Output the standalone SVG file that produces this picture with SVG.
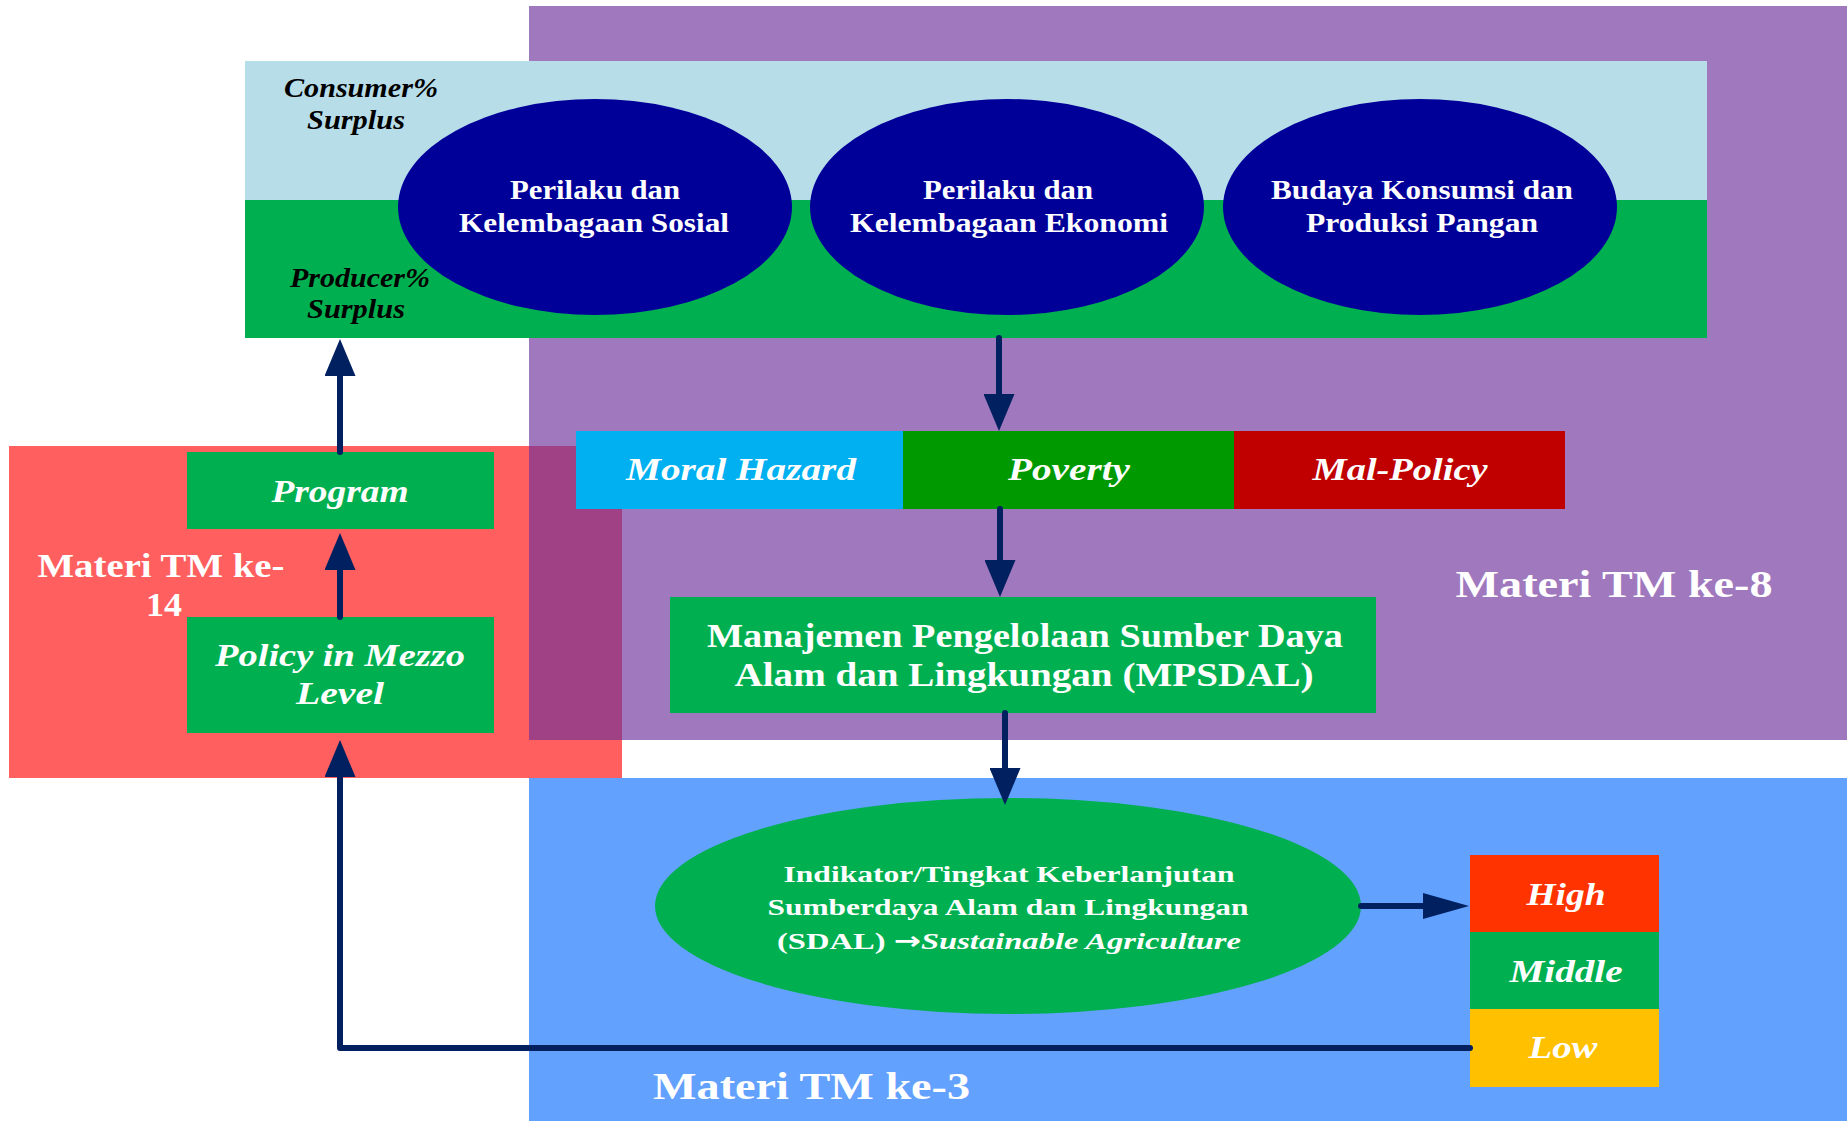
<svg xmlns="http://www.w3.org/2000/svg" width="1847" height="1121" viewBox="0 0 1847 1121">
<defs>
<style>
.t{font-family:"Liberation Serif","Times New Roman",serif;font-weight:bold;fill:#ffffff}
.i{font-style:italic}
.k{fill:#000000}
.ar{font-family:"DejaVu Sans",sans-serif;font-weight:bold;font-style:normal}
.ln{fill:none;stroke:#002060;stroke-width:6;stroke-linecap:round;stroke-linejoin:round}
</style>
<marker id="av" markerUnits="userSpaceOnUse" markerWidth="37" markerHeight="31" viewBox="0 0 37 31" refX="0" refY="15.5" orient="auto">
<path d="M0,0 L37,15.5 L0,31 Z" fill="#002060"/>
</marker>
<marker id="ah" markerUnits="userSpaceOnUse" markerWidth="46" markerHeight="26" viewBox="0 0 46 26" refX="0" refY="13" orient="auto">
<path d="M0,0 L46,13 L0,26 Z" fill="#002060"/>
</marker>
</defs>
<rect x="0" y="0" width="1847" height="1121" fill="#ffffff"/>
<g id="region-tm8">
<rect x="529" y="6" width="1318" height="734" fill="#A078BE"/>
<text class="t" x="1614" y="597" font-size="37" text-anchor="middle" textLength="317" lengthAdjust="spacingAndGlyphs">Materi TM ke-8</text>
</g>
<g id="region-tm3">
<rect x="529" y="778" width="1318" height="343" fill="#63A1FF"/>
<text class="t" x="653" y="1099" font-size="38" textLength="317" lengthAdjust="spacingAndGlyphs">Materi TM ke-3</text>
</g>
<g id="region-tm14">
<rect x="9" y="446" width="613" height="332" fill="#FF5F5F"/>
<rect x="529" y="446" width="93" height="294" fill="#A04085"/>
<text class="t" x="161" y="577" font-size="34" text-anchor="middle" textLength="247" lengthAdjust="spacingAndGlyphs">Materi TM ke-</text>
<text class="t" x="164" y="616" font-size="34" text-anchor="middle" textLength="36" lengthAdjust="spacingAndGlyphs">14</text>
</g>
<g id="surplus-band">
<rect x="245" y="61" width="1462" height="139" fill="#B7DDE8"/>
<rect x="245" y="200" width="1462" height="138" fill="#00B050"/>
<text class="t i k" x="284" y="97" font-size="27" textLength="154" lengthAdjust="spacingAndGlyphs">Consumer%</text>
<text class="t i k" x="307" y="129" font-size="27" textLength="98" lengthAdjust="spacingAndGlyphs">Surplus</text>
<text class="t i k" x="290" y="287" font-size="27" textLength="140" lengthAdjust="spacingAndGlyphs">Producer%</text>
<text class="t i k" x="307" y="318" font-size="27" textLength="98" lengthAdjust="spacingAndGlyphs">Surplus</text>
</g>
<g id="perilaku-sosial">
<ellipse cx="595" cy="207" rx="197" ry="108" fill="#000099"/>
<text class="t" x="595" y="199" font-size="27" text-anchor="middle" textLength="170" lengthAdjust="spacingAndGlyphs">Perilaku dan</text>
<text class="t" x="594" y="232" font-size="27" text-anchor="middle" textLength="270" lengthAdjust="spacingAndGlyphs">Kelembagaan Sosial</text>
</g>
<g id="perilaku-ekonomi">
<ellipse cx="1007" cy="207" rx="197" ry="108" fill="#000099"/>
<text class="t" x="1008" y="199" font-size="27" text-anchor="middle" textLength="170" lengthAdjust="spacingAndGlyphs">Perilaku dan</text>
<text class="t" x="1009" y="232" font-size="27" text-anchor="middle" textLength="318" lengthAdjust="spacingAndGlyphs">Kelembagaan Ekonomi</text>
</g>
<g id="budaya-konsumsi">
<ellipse cx="1420" cy="207" rx="197" ry="108" fill="#000099"/>
<text class="t" x="1422" y="199" font-size="27" text-anchor="middle" textLength="302" lengthAdjust="spacingAndGlyphs">Budaya Konsumsi dan</text>
<text class="t" x="1422" y="232" font-size="27" text-anchor="middle" textLength="232" lengthAdjust="spacingAndGlyphs">Produksi Pangan</text>
</g>
<g id="moral-hazard">
<rect x="576" y="431" width="327" height="78" fill="#00B0F0"/>
<text class="t i" x="741" y="480" font-size="32" text-anchor="middle" textLength="230" lengthAdjust="spacingAndGlyphs">Moral Hazard</text>
</g>
<g id="poverty">
<rect x="903" y="431" width="331" height="78" fill="#009900"/>
<text class="t i" x="1069" y="480" font-size="32" text-anchor="middle" textLength="122" lengthAdjust="spacingAndGlyphs">Poverty</text>
</g>
<g id="mal-policy">
<rect x="1234" y="431" width="331" height="78" fill="#C00000"/>
<text class="t i" x="1400" y="480" font-size="32" text-anchor="middle" textLength="175" lengthAdjust="spacingAndGlyphs">Mal-Policy</text>
</g>
<g id="mpsdal">
<rect x="670" y="597" width="706" height="116" fill="#00B050"/>
<text class="t" x="1025" y="647" font-size="33" text-anchor="middle" textLength="636" lengthAdjust="spacingAndGlyphs">Manajemen Pengelolaan Sumber Daya</text>
<text class="t" x="1024" y="686" font-size="33" text-anchor="middle" textLength="579" lengthAdjust="spacingAndGlyphs">Alam dan Lingkungan (MPSDAL)</text>
</g>
<g id="indikator">
<ellipse cx="1008" cy="906" rx="353" ry="108" fill="#00B050"/>
<text class="t" x="1009" y="882" font-size="24" text-anchor="middle" textLength="451" lengthAdjust="spacingAndGlyphs">Indikator/Tingkat Keberlanjutan</text>
<text class="t" x="1008" y="915" font-size="24" text-anchor="middle" textLength="481" lengthAdjust="spacingAndGlyphs">Sumberdaya Alam dan Lingkungan</text>
<text class="t" x="1009" y="949" font-size="24" text-anchor="middle" textLength="464" lengthAdjust="spacingAndGlyphs">(SDAL) <tspan class="ar">→</tspan><tspan class="i">Sustainable Agriculture</tspan></text>
</g>
<g id="high">
<rect x="1470" y="855" width="189" height="77" fill="#FF3300"/>
<text class="t i" x="1566" y="905" font-size="32" text-anchor="middle" textLength="79" lengthAdjust="spacingAndGlyphs">High</text>
</g>
<g id="middle">
<rect x="1470" y="932" width="189" height="77" fill="#00B050"/>
<text class="t i" x="1566" y="982" font-size="32" text-anchor="middle" textLength="113" lengthAdjust="spacingAndGlyphs">Middle</text>
</g>
<g id="low">
<rect x="1470" y="1009" width="189" height="78" fill="#FFC000"/>
<text class="t i" x="1563" y="1058" font-size="32" text-anchor="middle" textLength="69" lengthAdjust="spacingAndGlyphs">Low</text>
</g>
<g id="program">
<rect x="187" y="452" width="307" height="77" fill="#00B050"/>
<text class="t i" x="340" y="502" font-size="32" text-anchor="middle" textLength="137" lengthAdjust="spacingAndGlyphs">Program</text>
</g>
<g id="policy-mezzo">
<rect x="187" y="617" width="307" height="116" fill="#00B050"/>
<text class="t i" x="340" y="666" font-size="32" text-anchor="middle" textLength="250" lengthAdjust="spacingAndGlyphs">Policy in Mezzo</text>
<text class="t i" x="340" y="704" font-size="32" text-anchor="middle" textLength="88" lengthAdjust="spacingAndGlyphs">Level</text>
</g>
<g id="connectors">
<path class="ln" d="M999,338 L999,394" marker-end="url(#av)"/>
<path class="ln" d="M1000,509 L1000,560" marker-end="url(#av)"/>
<path class="ln" d="M1005,713 L1005,768" marker-end="url(#av)"/>
<path class="ln" d="M1361,906 L1423,906" marker-end="url(#ah)"/>
<path class="ln" d="M1470,1048 L340,1048 L340,777" marker-end="url(#av)"/>
<path class="ln" d="M340,617 L340,570" marker-end="url(#av)"/>
<path class="ln" d="M340,452 L340,376" marker-end="url(#av)"/>
</g>
</svg>
